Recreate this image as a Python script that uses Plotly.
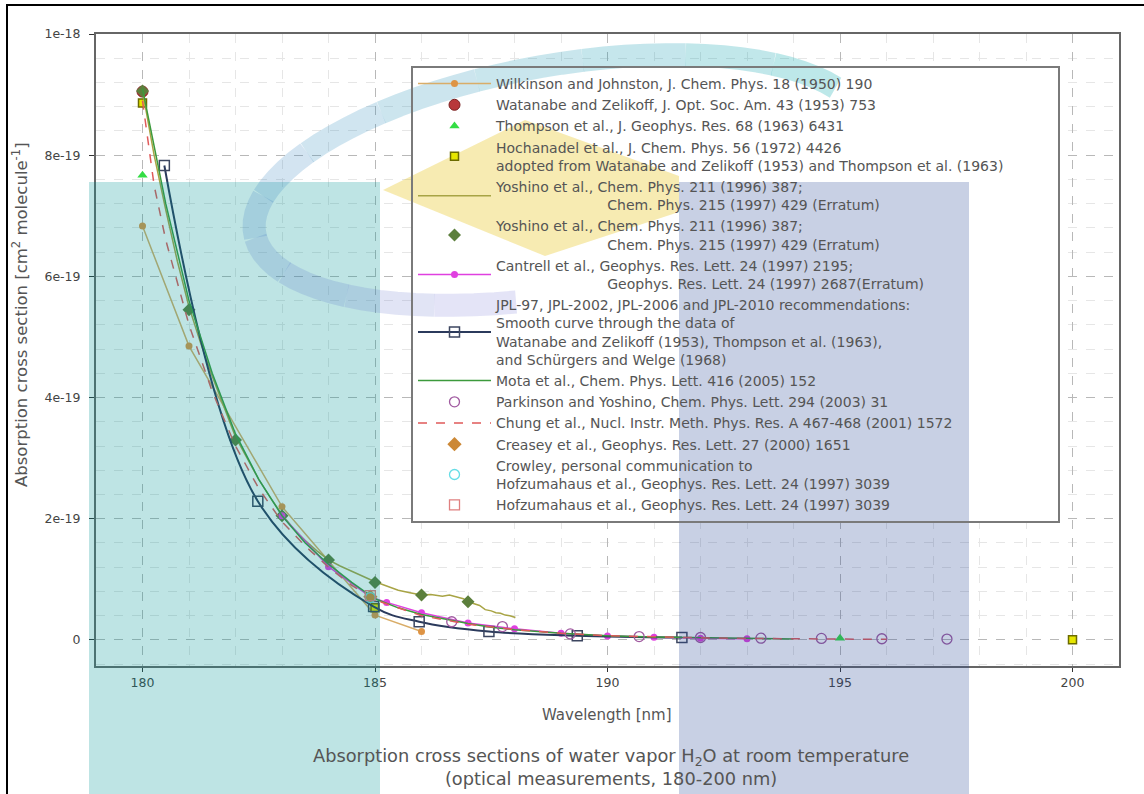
import numpy as np
import plotly.graph_objects as go

# ---------------- data (cross sections in cm^2 molecule^-1) ----------------
wilkinson_wl = [180.0, 181.0, 183.0, 185.0, 186.0]
wilkinson_xs = [68.3e-20, 48.5e-20, 22.0e-20, 4.1e-20, 1.4e-20]

watanabe_wl = [180.0]
watanabe_xs = [90.5e-20]

thompson_wl = [180.0, 195.0]
thompson_xs = [76.7e-20, 0.3e-20]

hochanadel_wl = [180.0, 185.0, 200.0]
hochanadel_xs = [88.6e-20, 5.3e-20, 0.05e-20]

yoshino_line_wl = [180.0, 180.25, 180.5, 180.75, 181.0, 181.25, 181.5, 181.75, 182.0, 182.25,
                   182.5, 182.75, 183.0, 183.25, 183.5, 183.75, 184.0, 184.25, 184.5, 184.75,
                   185.0, 185.25, 185.5, 185.75, 186.0, 186.2, 186.45, 186.6, 186.75, 186.9,
                   187.0, 187.15, 187.25, 187.37, 187.5, 187.6, 187.7, 187.8, 187.9, 188.02]
yoshino_line_xs = [90.6e-20, 80.0e-20, 71.0e-20, 62.5e-20, 55.0e-20, 49.0e-20, 43.5e-20, 38.5e-20, 33.5e-20, 30.0e-20,
                   26.5e-20, 23.5e-20, 20.7e-20, 18.3e-20, 16.4e-20, 14.7e-20, 13.2e-20, 12.2e-20, 11.3e-20, 10.4e-20,
                   9.6e-20, 8.9e-20, 8.2e-20, 7.8e-20, 7.4e-20, 7.5e-20, 7.2e-20, 7.4e-20, 7.15e-20, 6.8e-20,
                   6.3e-20, 6.0e-20, 5.7e-20, 5.0e-20, 4.8e-20, 4.5e-20, 4.4e-20, 4.1e-20, 4.0e-20, 3.7e-20]

yoshino_pts_wl = [180.0, 181.0, 182.0, 183.0, 184.0, 185.0, 186.0, 187.0]
yoshino_pts_xs = [90.6e-20, 54.5e-20, 33.0e-20, 20.5e-20, 13.2e-20, 9.5e-20, 7.4e-20, 6.3e-20]

cantrell_wl = [183.0, 184.0, 184.9, 185.25, 186.0, 187.0, 188.0, 189.0, 190.0, 191.0, 192.0, 193.0]
cantrell_xs = [20.5e-20, 12.1e-20, 7.1e-20, 6.2e-20, 4.5e-20, 2.8e-20, 1.85e-20, 1.1e-20, 0.65e-20, 0.45e-20, 0.3e-20, 0.2e-20]

jpl_wl = [180.47, 182.48, 184.97, 185.95, 187.45, 189.35, 191.6]
jpl_xs = [78.3e-20, 22.9e-20, 5.5e-20, 3.0e-20, 1.38e-20, 0.7e-20, 0.4e-20]

mota_wl = [180.0, 180.5, 181.0, 181.5, 182.0, 182.5, 183.0, 183.5, 184.0, 184.5, 185.0, 185.5,
           186.0, 186.5, 187.0, 187.5, 188.0, 189.0, 190.0, 191.0, 192.0, 193.0, 194.0]
mota_xs = [91.0e-20, 72.0e-20, 56.0e-20, 44.0e-20, 34.0e-20, 26.5e-20, 20.5e-20, 16.0e-20, 12.5e-20, 9.5e-20, 6.8e-20, 5.3e-20,
           4.2e-20, 3.4e-20, 2.7e-20, 2.1e-20, 1.7e-20, 1.1e-20, 0.7e-20, 0.5e-20, 0.35e-20, 0.25e-20, 0.15e-20]

parkinson_wl = [186.65, 187.74, 189.2, 190.68, 192.0, 193.3, 194.6, 195.9, 197.3]
parkinson_xs = [3.0e-20, 2.2e-20, 1.0e-20, 0.55e-20, 0.4e-20, 0.3e-20, 0.25e-20, 0.2e-20, 0.15e-20]

chung_wl = [180.0, 180.25, 180.5, 181.0, 181.5, 182.0, 182.5, 183.0, 183.5, 184.0, 184.5, 185.0,
            186.0, 187.0, 188.0, 189.0, 190.0, 191.0, 192.0, 193.0, 194.0, 195.0, 196.0]
chung_xs = [89.0e-20, 75.0e-20, 66.0e-20, 52.0e-20, 41.0e-20, 32.0e-20, 25.0e-20, 19.5e-20, 15.5e-20, 12.0e-20, 9.0e-20, 6.6e-20,
            4.0e-20, 2.6e-20, 1.7e-20, 1.1e-20, 0.7e-20, 0.5e-20, 0.35e-20, 0.25e-20, 0.2e-20, 0.15e-20, 0.1e-20]

creasey_wl = [184.9]
creasey_xs = [7.14e-20]

crowley_wl = [184.9]
crowley_xs = [7.0e-20]

hofzumahaus_wl = [184.9]
hofzumahaus_xs = [7.3e-20]

x_tick_vals = [180, 185, 190, 195, 200]
x_tick_text = ["180", "185", "190", "195", "200"]
y_tick_vals = [0, 2e-19, 4e-19, 6e-19, 8e-19, 1e-18]
y_tick_text = ["0", "2e-19", "4e-19", "6e-19", "8e-19", "1e-18"]

NB = "\u00a0"
IND = NB * 25
names = {
    "wil": "Wilkinson and Johnston, J. Chem. Phys. 18 (1950) 190",
    "wat": "Watanabe and Zelikoff, J. Opt. Soc. Am. 43 (1953) 753",
    "tho": "Thompson et al., J. Geophys. Res. 68 (1963) 6431",
    "hoc": "Hochanadel et al., J. Chem. Phys. 56 (1972) 4426<br>adopted from Watanabe and Zelikoff (1953) and Thompson et al. (1963)" + NB * 11,
    "yo1": "Yoshino et al., Chem. Phys. 211 (1996) 387;<br>" + IND + "Chem. Phys. 215 (1997) 429 (Erratum)",
    "yo2": "Yoshino et al., Chem. Phys. 211 (1996) 387;<br>" + IND + "Chem. Phys. 215 (1997) 429 (Erratum)",
    "can": "Cantrell et al., Geophys. Res. Lett. 24 (1997) 2195;<br>" + IND + "Geophys. Res. Lett. 24 (1997) 2687(Erratum)",
    "jpl": "JPL-97, JPL-2002, JPL-2006 and JPL-2010 recommendations:<br>Smooth curve through the data of<br>"
           "Watanabe and Zelikoff (1953), Thompson et al. (1963),<br>and Sch\u00fcrgers and Welge (1968)",
    "mot": "Mota et al., Chem. Phys. Lett. 416 (2005) 152",
    "par": "Parkinson and Yoshino, Chem. Phys. Lett. 294 (2003) 31",
    "chu": "Chung et al., Nucl. Instr. Meth. Phys. Res. A 467-468 (2001) 1572",
    "cre": "Creasey et al., Geophys. Res. Lett. 27 (2000) 1651",
    "cro": "Crowley, personal communication to<br>Hofzumahaus et al., Geophys. Res. Lett. 24 (1997) 3039",
    "hof": "Hofzumahaus et al., Geophys. Res. Lett. 24 (1997) 3039",
}

FONT = "DejaVu Sans, Arial, sans-serif"
TXT = "#555555"

fig = go.Figure()
fig.add_trace(go.Scatter(x=wilkinson_wl, y=wilkinson_xs, name=names["wil"], mode="lines+markers",
                         line=dict(color="#d9ad68", width=1.5),
                         marker=dict(symbol="circle", size=7, color="#de9445")))
fig.add_trace(go.Scatter(x=watanabe_wl, y=watanabe_xs, name=names["wat"], mode="markers",
                         marker=dict(symbol="circle", size=11, color="#b8383a",
                                     line=dict(color="#7a2020", width=1))))
fig.add_trace(go.Scatter(x=thompson_wl, y=thompson_xs, name=names["tho"], mode="markers",
                         marker=dict(symbol="triangle-up", size=9, color="#33dd44")))
fig.add_trace(go.Scatter(x=hochanadel_wl, y=hochanadel_xs, name=names["hoc"], mode="markers",
                         marker=dict(symbol="square", size=8, color="#e6e600",
                                     line=dict(color="#6b6b00", width=1.5))))
fig.add_trace(go.Scatter(x=yoshino_line_wl, y=yoshino_line_xs, name=names["yo1"], mode="lines",
                         line=dict(color="#a8a445", width=1.5)))
fig.add_trace(go.Scatter(x=yoshino_pts_wl, y=yoshino_pts_xs, name=names["yo2"], mode="markers",
                         marker=dict(symbol="diamond", size=10, color="#5c7f3c")))
fig.add_trace(go.Scatter(x=cantrell_wl, y=cantrell_xs, name=names["can"], mode="lines+markers",
                         line=dict(color="#e040e0", width=1.5),
                         marker=dict(symbol="circle", size=7, color="#e040e0")))
fig.add_trace(go.Scatter(x=jpl_wl, y=jpl_xs, name=names["jpl"], mode="lines+markers",
                         line=dict(color="#2b3a5c", width=2, shape="spline"),
                         marker=dict(symbol="square-open", size=10, color="#3c4660", line=dict(width=1.5))))
fig.add_trace(go.Scatter(x=mota_wl, y=mota_xs, name=names["mot"], mode="lines",
                         line=dict(color="#3c9a3c", width=1.5)))
fig.add_trace(go.Scatter(x=parkinson_wl, y=parkinson_xs, name=names["par"], mode="markers",
                         marker=dict(symbol="circle-open", size=10, color="#a05aa0", line=dict(width=1.3))))
fig.add_trace(go.Scatter(x=chung_wl, y=chung_xs, name=names["chu"], mode="lines",
                         line=dict(color="#e05a5a", width=1.5, dash="dash")))
fig.add_trace(go.Scatter(x=creasey_wl, y=creasey_xs, name=names["cre"], mode="markers",
                         marker=dict(symbol="diamond", size=11, color="#cc8836")))
fig.add_trace(go.Scatter(x=crowley_wl, y=crowley_xs, name=names["cro"], mode="markers",
                         marker=dict(symbol="circle-open", size=10, color="#66dde6", line=dict(width=1.3))))
fig.add_trace(go.Scatter(x=hofzumahaus_wl, y=hofzumahaus_xs, name=names["hof"], mode="markers",
                         marker=dict(symbol="square-open", size=10, color="#e08080", line=dict(width=1.3))))

# ---------------- layout geometry (pixels) ----------------
W, H = 1144, 794
PL, PR, PT, PB = 96, 1119, 34, 666


def P(px, py):
    return (px - PL) / (PR - PL), (PB - py) / (PB - PT)


def path_of(points, close=False):
    pts = [P(x, y) for x, y in points]
    s = "M " + " L ".join(f"{a:.5f},{b:.5f}" for a, b in pts)
    return s + (" Z" if close else "")


shapes = []
# white background behind the legend
lx0, ly0 = P(411, 66)
lx1, ly1 = P(1059, 523)
shapes.append(dict(type="rect", xref="paper", yref="paper", x0=lx0, y0=ly1, x1=lx1, y1=ly0,
                   fillcolor="white", line=dict(width=0), layer="above"))

# watermark: teal and blue bands, yellow diamond, arc
tx0, ty0 = P(89, 182)
tx1, ty1 = P(380, 800)
shapes.append(dict(type="rect", xref="paper", yref="paper", x0=tx0, y0=ty1, x1=tx1, y1=ty0,
                   fillcolor="rgba(0,150,150,0.255)", line=dict(width=0), layer="above"))
bx0, by0 = P(679, 182)
bx1, by1 = P(969, 800)
shapes.append(dict(type="rect", xref="paper", yref="paper", x0=bx0, y0=by1, x1=bx1, y1=by0,
                   fillcolor="rgba(40,70,150,0.255)", line=dict(width=0), layer="above"))
shapes.append(dict(type="path", xref="paper", yref="paper",
                   path=path_of([(383, 190), (525, 120), (679, 176), (679, 212), (545, 256)], close=True),
                   fillcolor="rgba(230,190,0,0.30)", line=dict(width=0), layer="above"))

cx, cy, rx, ry, phi = 560.0, 180.0, 310.0, 115.0, np.radians(-10)
thetas = np.radians(np.linspace(22, 258, 60))
segs = 12
for k in range(segs):
    th = thetas[k * 5:(k * 5) + 6]
    u = rx * np.cos(th)
    v = -ry * np.sin(th)
    xs = cx + u * np.cos(phi) - v * np.sin(phi)
    ys = cy + u * np.sin(phi) + v * np.cos(phi)
    f = k / (segs - 1)
    r = int(0 + f * 110)
    g = int(165 - f * 55)
    b = int(170 + f * 40)
    a = 0.26 - f * 0.07
    shapes.append(dict(type="path", xref="paper", yref="paper",
                       path=path_of(list(zip(xs, ys))),
                       line=dict(color=f"rgba({r},{g},{b},{a:.3f})", width=23),
                       fillcolor="rgba(0,0,0,0)", layer="above"))

# outer frame
fx0, fy0 = P(7, 5)
fx1, fy1 = P(1160, 810)
shapes.append(dict(type="rect", xref="paper", yref="paper", x0=fx0, y0=fy1, x1=fx1, y1=fy0,
                   line=dict(color="black", width=2), fillcolor="rgba(0,0,0,0)", layer="above"))

ytx, yty = P(20, 315)
xtx, xty = P(607, 715)
mtx, mty = P(611, 767)
annotations = [
    dict(text="Absorption cross section [cm<sup>2</sup> molecule<sup>-1</sup>]", textangle=-90,
         xref="paper", yref="paper", x=ytx, y=yty, xanchor="center", yanchor="middle",
         showarrow=False, font=dict(family=FONT, size=16.5, color=TXT)),
    dict(text="Wavelength [nm]", xref="paper", yref="paper", x=xtx, y=xty,
         xanchor="center", yanchor="middle", showarrow=False, font=dict(family=FONT, size=15, color=TXT)),
    dict(text="Absorption cross sections of water vapor H<sub>2</sub>O at room temperature<br>"
              "(optical measurements, 180-200 nm)",
         xref="paper", yref="paper", x=mtx, y=mty, xanchor="center", yanchor="middle",
         showarrow=False, font=dict(family=FONT, size=17.8, color=TXT)),
]

lgx, lgy = P(411, 66)
fig.update_layout(
    width=W, height=H,
    margin=dict(l=PL, r=W - PR, t=PT, b=H - PB, pad=0),
    paper_bgcolor="white", plot_bgcolor="white",
    font=dict(family=FONT, color=TXT, size=12),
    showlegend=True,
    legend=dict(x=lgx, y=lgy, xanchor="left", yanchor="top",
                bgcolor="rgba(0,0,0,0)", bordercolor="#7a7a7a", borderwidth=2,
                font=dict(family=FONT, size=14, color=TXT), itemwidth=73),
    shapes=shapes,
    annotations=annotations,
    xaxis=dict(range=[179, 201], tickmode="array", tickvals=x_tick_vals, ticktext=x_tick_text,
               showline=True, linecolor="#666666", linewidth=2, mirror=True,
               ticks="outside", ticklen=4, tickcolor="#333333",
               showgrid=True, gridcolor="#b8b8b8", griddash="dash", gridwidth=1,
               minor=dict(tickmode="linear", tick0=180, dtick=1, showgrid=True,
                          gridcolor="#e6e6e6", gridwidth=1),
               zeroline=False, tickfont=dict(family=FONT, size=12.5, color="#444444")),
    yaxis=dict(range=[-4.3e-20, 1.0e-18], tickmode="array", tickvals=y_tick_vals, ticktext=y_tick_text,
               showline=True, linecolor="#666666", linewidth=2, mirror=True,
               ticks="outside", ticklen=5, tickcolor="#333333",
               showgrid=True, gridcolor="#b8b8b8", griddash="dash", gridwidth=1,
               minor=dict(tickmode="linear", tick0=0, dtick=4e-20, showgrid=True,
                          gridcolor="#e6e6e6", griddash="dash", gridwidth=1),
               zeroline=False, tickfont=dict(family=FONT, size=12.5, color="#444444"),
               ticklabelstandoff=6),
)

fig.write_html("out.html", config={"displayModeBar": False},
               post_script="document.body.style.margin='0px';")
